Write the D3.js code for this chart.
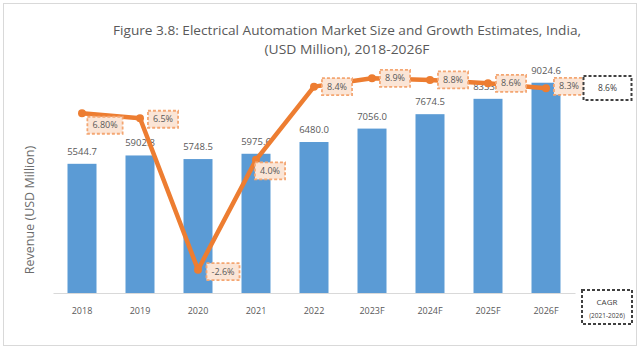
<!DOCTYPE html>
<html>
<head>
<meta charset="utf-8">
<script src="https://cdn.jsdelivr.net/npm/d3@7"></script>
<style>
  html, body { margin: 0; padding: 0; background: #fff; }
  #chart { width: 640px; height: 349px; }
  text { font-family: "Open Sans", "Liberation Sans", sans-serif; }
</style>
</head>
<body>
<div id="chart"></div>
<script>
// data
const years = ["2018", "2019", "2020", "2021", "2022", "2023F", "2024F", "2025F", "2026F"];
const revenue = [5544.7, 5902.8, 5748.5, 5975.6, 6480.0, 7056.0, 7674.5, 8333.9, 9024.6];
const growth = [6.8, 6.5, -2.6, 4.0, 8.4, 8.9, 8.8, 8.6, 8.3];
const growthLabels = ["6.80%", "6.5%", "-2.6%", "4.0%", "8.4%", "8.9%", "8.8%", "8.6%", "8.3%"];
const cagrValue = "8.6%";
const cagrCaption = ["CAGR", "(2021-2026)"];
const titleLines = [
  "Figure 3.8: Electrical Automation Market Size and Growth Estimates, India,",
  "(USD Million), 2018-2026F"
];
const yTitle = "Revenue  (USD Million)";

function drawChart() {
  const W = 640, H = 349;
  const plot = { left: 53, right: 575, top: 60, bottom: 293 };

  const svg = d3.select("#chart").append("svg")
    .attr("width", W)
    .attr("height", H);

  // outer frame
  svg.append("rect")
    .attr("x", 3.5).attr("y", 3.5)
    .attr("width", 633).attr("height", 342)
    .attr("fill", "#fff")
    .attr("stroke", "#d9d9d9");

  // title
  const titleWidths = [468, 165];
  titleLines.forEach((t, i) => {
    svg.append("text")
      .attr("x", 347)
      .attr("y", 35 + i * 19)
      .attr("text-anchor", "middle")
      .attr("textLength", titleWidths[i])
      .attr("lengthAdjust", "spacingAndGlyphs")
      .style("font-size", "13.5px")
      .style("fill", "#595959")
      .text(t);
  });

  // scales
  const x = d3.scaleBand()
    .domain(years)
    .range([plot.left, plot.right])
    .paddingInner(0.5)
    .paddingOuter(0.25);

  const y = d3.scaleLinear()
    .domain([0, 10000])
    .range([plot.bottom, plot.top]);

  // secondary axis for growth (hidden)
  const y2 = d3.scaleLinear()
    .domain([-4, 10])
    .range([plot.bottom, plot.top]);

  const data = years.map((yr, i) => ({
    year: yr, revenue: revenue[i], growth: growth[i], label: growthLabels[i]
  }));

  // bars
  svg.selectAll(".bar")
    .data(data)
    .enter()
    .append("rect")
    .attr("class", "bar")
    .attr("x", d => x(d.year))
    .attr("y", d => y(d.revenue))
    .attr("width", x.bandwidth())
    .attr("height", d => y(0) - y(d.revenue))
    .attr("fill", "#5b9bd5");

  // x axis
  const xAxis = svg.append("g")
    .attr("transform", `translate(0, ${plot.bottom})`)
    .call(d3.axisBottom(x).tickSize(0).tickPadding(15));
  xAxis.select(".domain").attr("stroke", "#d9d9d9").attr("stroke-width", 1.2);
  xAxis.selectAll("text")
    .style("font-family", "'Open Sans', sans-serif")
    .style("font-size", "9px")
    .style("fill", "#595959");

  // bar value labels
  svg.selectAll(".bar-label")
    .data(data)
    .enter()
    .append("text")
    .attr("class", "bar-label")
    .attr("x", d => x(d.year) + x.bandwidth() / 2)
    .attr("y", d => y(d.revenue) - 9)
    .attr("text-anchor", "middle")
    .style("font-size", "9.5px")
    .style("fill", "#595959")
    .text(d => d.revenue.toFixed(1));

  // y axis title
  svg.append("text")
    .attr("transform", "translate(34, 210) rotate(-90)")
    .attr("text-anchor", "middle")
    .style("font-size", "12.5px")
    .style("fill", "#6b6b6b")
    .text(yTitle);

  // growth line
  const cx = d => x(d.year) + x.bandwidth() / 2;
  const line = d3.line()
    .x(cx)
    .y(d => y2(d.growth));

  svg.append("path")
    .datum(data)
    .attr("fill", "none")
    .attr("stroke", "#ed7d31")
    .attr("stroke-width", 4.5)
    .attr("stroke-linejoin", "round")
    .attr("d", line);

  svg.selectAll(".dot")
    .data(data)
    .enter()
    .append("circle")
    .attr("class", "dot")
    .attr("cx", cx)
    .attr("cy", d => y2(d.growth))
    .attr("r", 4)
    .attr("fill", "#ed7d31");

  // label placement: to the right of the point, a few nudged down
  const nudge = { "2018": [0, 12], "2019": [0, 1], "2020": [2, 2], "2021": [-9, 11], "2026F": [0, -2] };

  const labels = svg.selectAll(".g-label")
    .data(data)
    .enter()
    .append("g")
    .attr("class", "g-label")
    .attr("transform", d => {
      const n = nudge[d.year] || [0, 0];
      return `translate(${cx(d) + 23 + n[0]}, ${y2(d.growth) + n[1]})`;
    });

  labels.append("rect")
    .attr("fill", "#fbe5d6")
    .attr("stroke", "#f4a672")
    .attr("stroke-width", 1.8)
    .attr("stroke-dasharray", "3,2");

  labels.append("text")
    .attr("text-anchor", "middle")
    .attr("dy", "0.35em")
    .style("font-size", "9px")
    .style("fill", "#595959")
    .text(d => d.label);

  labels.each(function() {
    const g = d3.select(this);
    const w = g.select("text").node().getComputedTextLength() + 10;
    g.select("rect")
      .attr("x", -w / 2).attr("y", -8.5)
      .attr("width", w).attr("height", 17);
  });

  // CAGR value box
  const cagrBox = svg.append("g").attr("transform", "translate(607.5, 88)");
  cagrBox.append("rect")
    .attr("x", -24).attr("y", -12)
    .attr("width", 48).attr("height", 24)
    .attr("fill", "#fff")
    .attr("stroke", "#404040")
    .attr("stroke-width", 2)
    .attr("stroke-dasharray", "3,2");
  cagrBox.append("text")
    .attr("text-anchor", "middle")
    .attr("dy", "0.35em")
    .style("font-size", "8.5px")
    .style("fill", "#404040")
    .text(cagrValue);

  // CAGR caption box
  const capBox = svg.append("g").attr("transform", "translate(607, 307)");
  capBox.append("rect")
    .attr("x", -25).attr("y", -17)
    .attr("width", 50).attr("height", 34)
    .attr("fill", "#fff")
    .attr("stroke", "#404040")
    .attr("stroke-width", 2)
    .attr("stroke-dasharray", "3,2");
  capBox.selectAll("text")
    .data(cagrCaption)
    .enter()
    .append("text")
    .attr("text-anchor", "middle")
    .attr("y", (d, i) => i === 0 ? -2 : 11)
    .style("font-size", (d, i) => i === 0 ? "8px" : "6.5px")
    .style("fill", "#404040")
    .text(d => d);
}

drawChart();
</script>
</body>
</html>
